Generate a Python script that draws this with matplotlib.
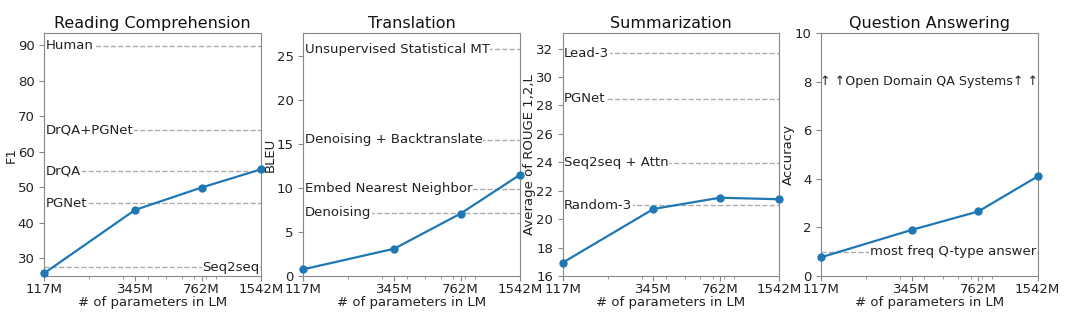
import matplotlib
matplotlib.use("Agg")
import matplotlib.pyplot as plt
from matplotlib.ticker import NullFormatter

params = [117, 345, 762, 1542]
param_labels = ["117M", "345M", "762M", "1542M"]

rc_scores = [25.8, 43.6, 49.9, 55.0]
rc_base_names = ["Human", "DrQA+PGNet", "DrQA", "PGNet", "Seq2seq"]
rc_base_vals = [89.8, 66.1, 54.6, 45.5, 27.5]
rc_base_align = ["left", "left", "left", "left", "right"]

tr_scores = [0.76, 3.1, 7.1, 11.5]
tr_base_names = ["Unsupervised Statistical MT", "Denoising + Backtranslate",
                 "Embed Nearest Neighbor", "Denoising"]
tr_base_vals = [25.8, 15.5, 9.9, 7.2]
tr_base_align = ["left", "left", "left", "left"]

su_scores = [16.94, 20.72, 21.51, 21.40]
su_base_names = ["Lead-3", "PGNet", "Seq2seq + Attn", "Random-3"]
su_base_vals = [31.68, 28.49, 23.98, 20.98]
su_base_align = ["left", "left", "left", "left"]

qa_scores = [0.77, 1.9, 2.66, 4.1]
qa_base_names = ["most freq Q-type answer"]
qa_base_vals = [1.0]
qa_base_align = ["right"]

W, H = 1080, 333
fig = plt.figure(figsize=(W / 100, H / 100), dpi=100)

panels = [
    ("Reading Comprehension", "F1", rc_scores, rc_base_names, rc_base_vals, rc_base_align,
     (25, 93.3), [30, 40, 50, 60, 70, 80, 90], 44.3),
    ("Translation", "BLEU", tr_scores, tr_base_names, tr_base_vals, tr_base_align,
     (0, 27.6), [0, 5, 10, 15, 20, 25], 303.3),
    ("Summarization", "Average of ROUGE 1,2,L", su_scores, su_base_names, su_base_vals, su_base_align,
     (16, 33.08), [16, 18, 20, 22, 24, 26, 28, 30, 32], 562.7),
    ("Question Answering", "Accuracy", qa_scores, qa_base_names, qa_base_vals, qa_base_align,
     (0, 10), [0, 2, 4, 6, 8, 10], 821.0),
]

FS = 9.5
for title, ylabel, scores, bnames, bvals, baligns, ylim, yticks, left in panels:
    ax = fig.add_axes([left / W, (H - 276) / H, 216.5 / W, 242.7 / H])
    ax.set_xscale("log")
    for v in bvals:
        ax.axhline(v, color="gray", linestyle="--", linewidth=1.0, alpha=0.65, zorder=1)
    for name, v, al in zip(bnames, bvals, baligns):
        x = 0.006 if al == "left" else 0.994
        ax.text(x, v, name, transform=ax.get_yaxis_transform(), ha=al, va="center",
                fontsize=FS, color="#222222", zorder=2,
                bbox=dict(facecolor="white", edgecolor="none", pad=0.5))
    ax.plot(params, scores, marker="o", markersize=5, linewidth=1.6,
            color="#1f77b4", zorder=3, clip_on=False)
    ax.set_xlim(117, 1542)
    ax.set_ylim(*ylim)
    ax.set_yticks(yticks)
    ax.set_xticks(params)
    ax.set_xticklabels(param_labels)
    ax.xaxis.set_minor_formatter(NullFormatter())
    ax.tick_params(labelsize=FS, colors="#222222")
    ax.tick_params(axis="x", which="major", pad=1.5)
    ax.tick_params(which="both", color="#888888")
    for s in ax.spines.values():
        s.set_color("#888888")
    ax.set_title(title, fontsize=11.5, color="#111111", pad=4)
    ax.set_ylabel(ylabel, fontsize=FS, color="#222222", labelpad=0)
    ax.set_xlabel("# of parameters in LM", fontsize=FS, color="#222222", labelpad=0)
    if title == "Question Answering":
        ax.text(0.5, 8, "\u2191 \u2191Open Domain QA Systems\u2191 \u2191",
                transform=ax.get_yaxis_transform(), ha="center", va="center",
                fontsize=9.1, color="#222222")

fig.savefig("out.png", dpi=100)
